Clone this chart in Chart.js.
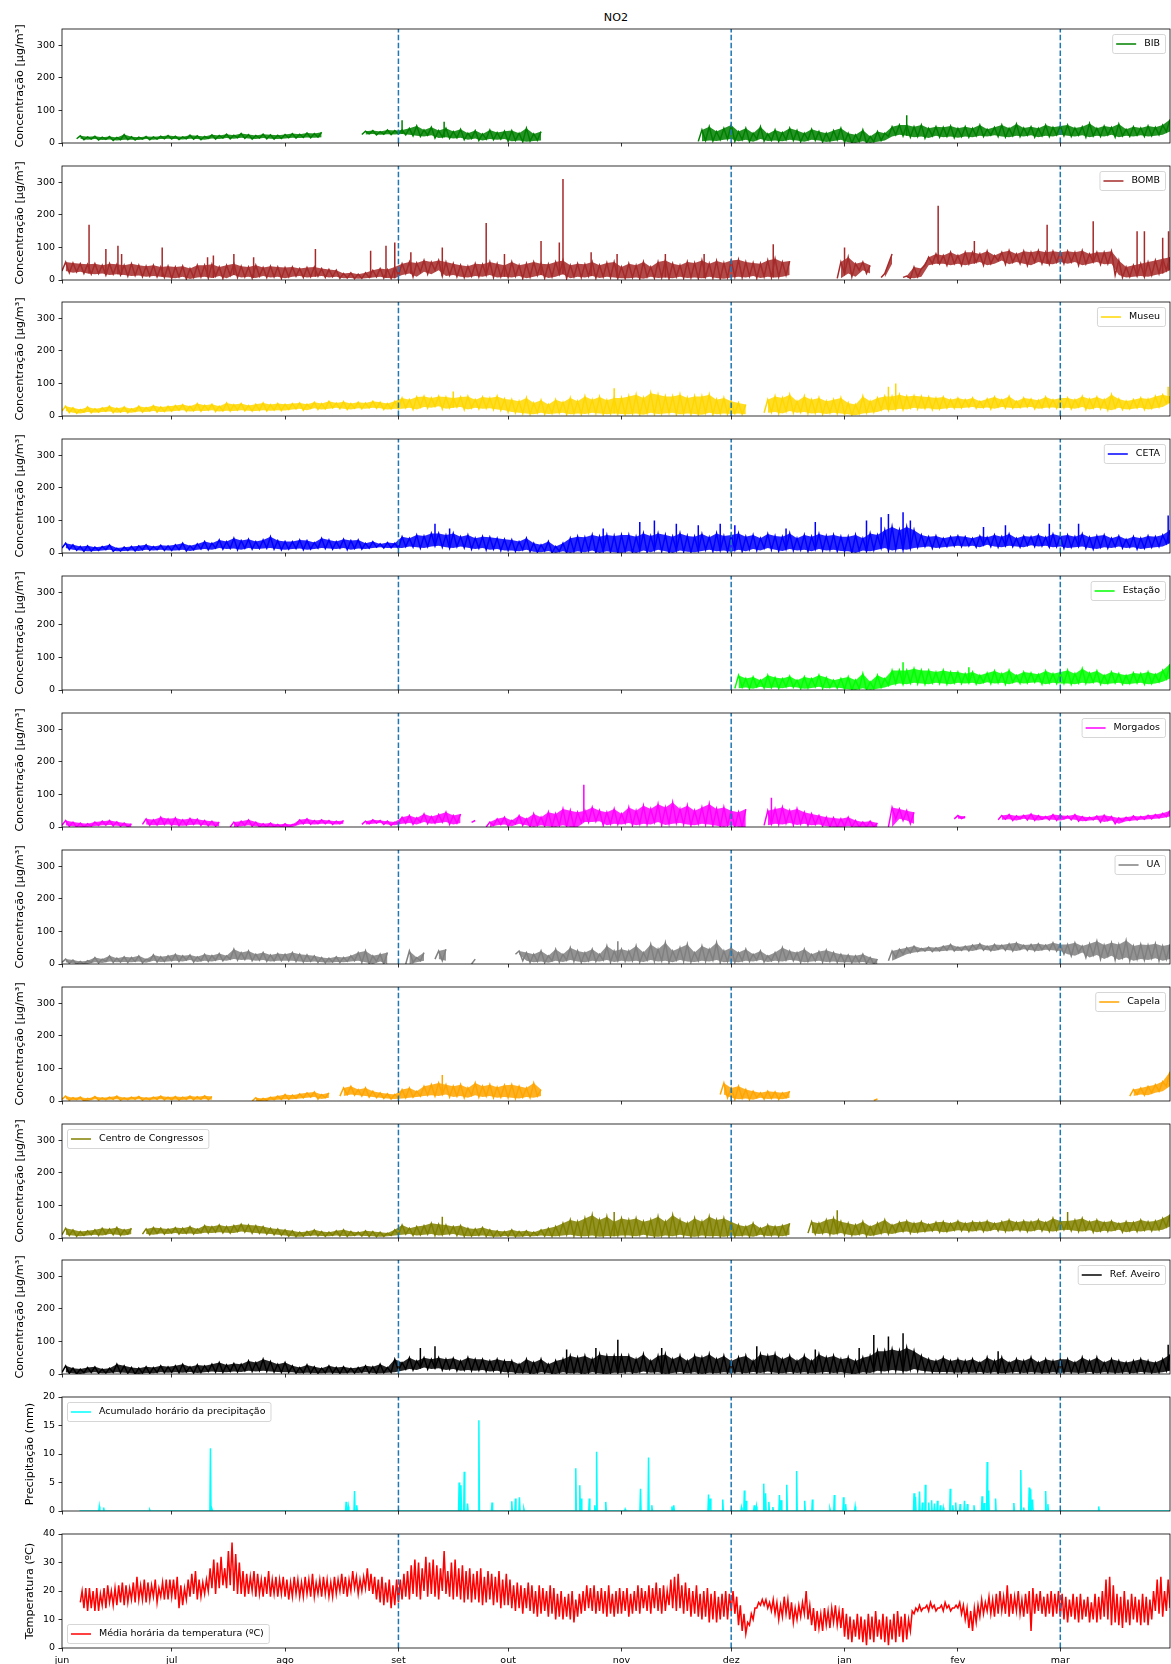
<!DOCTYPE html>
<html lang="pt">
<head>
<meta charset="utf-8">
<title>NO2</title>
<script src="https://cdn.jsdelivr.net/npm/chart.js@4.4.1/dist/chart.umd.min.js"></script>
<style>
  html, body { margin: 0; padding: 0; background: #fff; }
  #page { position: relative; width: 1171px; height: 1664px; overflow: hidden; font-family: 'DejaVu Sans', sans-serif; }
  #page canvas { position: absolute; left: 0; }
  #title { position: absolute; left: 62px; width: 1108px; top: 11px; text-align: center; font-size: 11.2px; line-height: 14px; color: #000; }
</style>
</head>
<body>
<div id="page">
  <div id="title">NO2</div>
</div>
<script>
const _ = null;

// x axis: days counted from 1 June, month starts as tick positions
const dayCount = 303;
const monthStarts = [0, 30, 61, 92, 122, 153, 183, 214, 245, 273];
const monthLabels = ['jun', 'jul', 'ago', 'set', 'out', 'nov', 'dez', 'jan', 'fev', 'mar'];
const markerDays = [92, 183, 273];

const concTicks = [0, 100, 200, 300];
const precipTicks = [0, 5, 10, 15, 20];
const tempTicks = [0, 10, 20, 30, 40];

// NO2: two-day windows (152 per series), upper and lower level of the band,
// plus isolated peaks (day, value) that stand above the band
// rows: jun(15) jul(16) ago(15) set(15) out(16) nov(15) dez(15) jan(16) fev(14) mar(15)
const bibHi = [
  _,_,22,19,21,18,20,17,26,19,18,20,19,21,23,
  21,19,24,22,20,25,23,27,24,29,26,23,27,25,24,26,
  29,27,31,29,33,_,_,_,_,_,36,38,35,40,38,
  40,45,52,40,48,38,45,35,42,30,38,28,40,32,36,
  38,30,45,28,35,_,_,_,_,_,_,_,_,_,_,_,
  _,_,_,_,_,_,_,_,_,_,40,50,35,45,55,
  35,45,30,50,28,40,32,45,38,30,42,35,30,38,45,
  30,25,40,20,35,30,50,55,55,50,55,45,50,48,52,45,
  50,45,55,42,48,55,45,58,46,50,45,55,48,52,
  55,46,50,60,45,52,48,58,42,50,46,52,48,55,72];
const bibLo = [
  _,_,13,10,12,9,11,8,10,10,9,12,10,12,13,
  12,11,13,12,10,14,12,15,13,16,14,12,15,13,12,14,
  16,15,17,16,18,_,_,_,_,_,26,28,25,27,26,
  28,25,22,20,24,15,18,14,16,10,14,8,12,10,12,
  5,8,4,6,8,_,_,_,_,_,_,_,_,_,_,_,
  _,_,_,_,_,_,_,_,_,_,5,8,6,10,12,
  5,10,4,12,6,8,5,10,8,4,10,8,3,6,10,
  2,0,5,0,4,8,20,25,22,18,20,15,22,18,20,16,
  20,18,22,20,24,20,18,22,20,24,18,22,20,25,
  22,20,24,18,22,20,25,18,22,20,24,20,22,25,35];
const bibPeakDay = [93, 104.5, 231];
const bibPeakVal = [70, 65, 85];

const bombHi = [
  55,52,50,48,50,45,50,48,45,50,45,42,45,40,42,
  40,42,35,45,45,48,40,45,50,42,40,45,38,42,40,38,
  40,35,38,40,35,32,30,20,22,18,22,30,35,32,40,
  50,55,52,60,55,60,55,50,45,42,50,48,55,50,45,
  55,45,50,55,50,48,55,60,45,50,48,55,45,52,55,40,
  50,45,55,40,55,60,50,45,55,52,60,50,58,52,60,
  62,55,52,50,60,65,55,58,_,_,_,_,_,_,55,
  70,50,55,45,_,20,80,_,12,40,35,70,80,75,85,75,
  85,85,80,88,75,85,90,80,88,85,90,85,88,85,
  88,85,90,80,85,85,88,60,40,45,50,55,60,65,70];
const bombLo = [
  28,22,25,20,18,20,15,18,15,12,14,10,12,10,8,
  5,10,3,8,10,6,12,5,15,8,10,6,12,8,10,5,
  10,12,8,10,12,8,10,5,6,4,5,8,10,6,5,
  15,20,10,25,18,30,12,15,10,8,12,10,15,8,10,
  8,12,5,10,15,6,10,18,5,10,8,12,6,10,8,5,
  5,8,4,10,6,8,5,10,6,8,5,10,6,4,8,
  10,8,12,6,10,8,10,15,_,_,_,_,_,_,5,
  20,10,30,20,_,8,50,_,8,5,10,45,50,50,45,50,
  45,50,55,45,50,60,48,55,50,45,55,50,48,55,
  50,55,45,50,55,48,50,15,8,10,12,10,15,20,30];
const bombPeakDay = [7.4, 12, 15.3, 16.3, 27.4, 39.8, 41.4, 47, 52.4, 69.3, 84.4, 88.6, 91, 95.4, 104,
  116, 121, 131, 136, 137, 144.7, 151.8, 165, 175.6, 194.5, 214, 239.6, 249.5, 269.4, 282, 294, 296, 301, 302.6];
const bombPeakVal = [170, 95, 105, 80, 100, 70, 75, 80, 70, 95, 90, 105, 115, 85, 100,
  175, 80, 120, 115, 310, 85, 80, 80, 80, 110, 100, 228, 120, 170, 180, 150, 150, 130, 150];

const museuHi = [
  30,25,20,28,22,25,30,24,28,22,30,26,32,28,30,
  32,35,30,38,33,36,30,40,35,38,32,36,40,35,38,36,
  38,40,36,42,38,45,40,44,38,42,40,45,42,38,45,
  55,50,58,60,55,60,58,55,58,60,50,58,55,60,52,
  50,45,55,40,48,35,50,42,55,45,60,50,58,48,55,55,
  60,65,55,70,65,60,60,65,55,60,60,65,50,55,45,
  40,35,_,_,50,60,55,65,45,60,50,55,45,50,55,
  40,35,60,45,55,60,60,65,60,62,60,58,55,58,50,55,
  50,55,45,52,58,50,60,45,55,52,48,58,50,55,
  55,50,60,52,58,50,65,52,46,50,55,52,60,65,60];
const museuLo = [
  15,10,8,12,10,12,14,10,12,10,14,12,15,12,14,
  15,18,14,16,15,18,14,16,15,18,16,15,18,16,18,17,
  20,22,18,24,20,22,25,22,20,24,22,25,24,20,22,
  22,25,20,28,25,30,22,25,28,20,25,22,24,20,18,
  12,10,8,5,10,6,8,10,5,8,6,10,8,5,8,6,
  5,8,4,10,6,8,10,5,8,6,4,10,5,8,6,
  8,5,_,_,10,12,8,15,10,12,8,10,6,10,8,
  5,2,8,10,12,20,18,22,20,25,22,24,20,22,25,24,
  25,28,24,26,22,28,25,24,26,28,22,25,26,24,
  25,22,28,20,25,22,18,25,20,22,25,20,24,28,40];
const museuPeakDay = [107, 151, 226, 228, 302.5];
const museuPeakVal = [75, 85, 90, 100, 90];

const cetaHi = [
  30,25,20,22,18,20,25,15,18,20,22,25,20,24,22,
  25,30,22,28,35,30,40,35,45,38,42,35,40,50,38,35,
  35,40,38,32,45,40,35,42,38,40,30,35,28,32,30,
  50,45,55,52,60,60,55,60,50,55,45,50,48,45,42,
  40,35,45,30,25,35,20,30,45,50,48,55,50,55,52,55,
  55,50,60,52,60,55,50,60,52,50,58,48,60,52,55,
  60,50,55,45,58,52,50,60,45,55,50,58,52,55,50,
  50,55,45,60,55,70,80,70,80,70,55,50,52,45,50,52,
  50,45,52,48,55,50,58,45,52,50,55,48,58,52,
  55,50,58,48,52,55,45,52,42,50,45,52,50,55,70];
const cetaLo = [
  15,10,8,5,6,8,10,5,6,8,6,10,8,10,8,
  8,10,6,10,12,10,15,12,14,10,15,12,14,15,12,10,
  12,14,10,12,15,14,12,15,10,14,12,15,18,15,16,
  15,20,18,15,20,22,18,15,20,16,12,15,10,12,8,
  8,5,10,4,2,6,0,5,0,5,2,8,0,5,2,0,
  5,0,8,2,10,5,0,8,4,2,6,10,5,8,4,
  10,5,12,8,15,10,6,12,8,10,5,12,8,10,6,
  5,0,8,5,10,15,8,12,10,15,18,20,15,18,20,22,
  20,22,18,25,20,18,22,20,18,24,20,22,18,20,
  15,18,20,15,12,18,15,20,15,18,12,15,18,20,30];
const cetaPeakDay = [102, 106, 148, 158, 162, 168, 174, 180, 184, 198, 206, 220, 224, 226, 230, 232, 252, 258, 270, 278, 302.5];
const cetaPeakVal = [90, 75, 75, 95, 100, 90, 85, 90, 85, 75, 95, 100, 110, 120, 125, 100, 80, 85, 90, 90, 115];

const estacaoHi = [
  _,_,_,_,_,_,_,_,_,_,_,_,_,_,_,
  _,_,_,_,_,_,_,_,_,_,_,_,_,_,_,_,
  _,_,_,_,_,_,_,_,_,_,_,_,_,_,_,
  _,_,_,_,_,_,_,_,_,_,_,_,_,_,_,
  _,_,_,_,_,_,_,_,_,_,_,_,_,_,_,_,
  _,_,_,_,_,_,_,_,_,_,_,_,_,_,_,
  45,35,40,30,45,38,35,42,30,40,35,45,38,30,35,
  40,30,50,25,45,35,60,60,60,65,60,60,55,60,55,55,
  50,55,45,52,58,50,60,45,55,52,48,58,50,55,
  60,50,65,52,58,45,55,50,45,52,50,55,48,60,80];
const estacaoLo = [
  _,_,_,_,_,_,_,_,_,_,_,_,_,_,_,
  _,_,_,_,_,_,_,_,_,_,_,_,_,_,_,_,
  _,_,_,_,_,_,_,_,_,_,_,_,_,_,_,
  _,_,_,_,_,_,_,_,_,_,_,_,_,_,_,
  _,_,_,_,_,_,_,_,_,_,_,_,_,_,_,_,
  _,_,_,_,_,_,_,_,_,_,_,_,_,_,_,
  5,8,4,10,6,8,5,10,8,4,6,10,5,8,6,
  2,0,5,0,4,8,15,20,18,22,20,18,22,20,18,22,
  20,22,18,24,20,22,18,24,20,22,24,18,22,20,
  20,18,22,20,24,18,20,22,18,20,22,18,20,25,35];
const estacaoPeakDay = [230, 248];
const estacaoPeakVal = [85, 70];

const morgadosHi = [
  20,15,12,10,15,18,20,16,12,10,_,25,22,30,25,
  28,22,26,24,20,18,15,_,15,18,22,15,10,12,8,10,
  8,22,25,20,22,20,18,20,_,_,18,22,20,18,15,
  30,35,28,40,32,38,45,35,40,_,20,_,15,25,30,
  20,35,25,40,30,45,40,55,50,45,50,60,50,45,55,40,
  60,50,65,55,70,60,75,55,65,50,60,70,55,60,50,
  45,55,_,_,50,55,60,50,55,45,40,35,30,28,25,
  30,20,15,18,12,_,60,55,50,45,_,_,_,_,_,35,
  32,_,_,_,_,35,38,34,36,40,35,32,38,36,
  34,38,32,30,34,36,32,28,30,34,32,36,38,42,50];
const morgadosLo = [
  5,2,0,0,3,5,6,4,2,0,_,8,5,6,8,
  5,4,6,8,5,4,2,_,0,2,5,2,0,0,0,0,
  0,8,10,8,10,10,8,10,_,_,8,10,12,8,5,
  10,12,8,15,10,12,15,8,12,_,14,_,0,5,8,
  2,10,5,0,5,2,0,5,0,0,15,15,18,5,10,8,
  12,5,10,8,15,6,10,12,8,5,10,8,4,0,5,
  0,0,_,_,5,10,8,12,6,10,5,8,2,0,0,
  2,0,0,0,0,_,0,25,20,10,_,_,_,_,_,25,
  26,_,_,_,_,22,24,20,25,22,20,24,22,20,
  25,22,18,20,22,15,20,10,18,20,22,24,25,28,32];
const morgadosPeakDay = [142.7, 194];
const morgadosPeakVal = [130, 90];

const uaHi = [
  15,12,8,10,20,15,25,18,22,20,25,15,28,22,25,
  30,25,28,22,30,26,32,25,45,35,40,30,35,28,32,30,
  35,30,28,25,20,18,22,20,25,35,40,25,30,35,_,
  _,40,20,35,_,40,45,_,_,_,15,_,_,_,_,
  _,40,35,30,40,25,45,30,50,40,35,45,30,55,40,45,
  40,55,35,60,45,65,40,50,60,35,55,45,65,40,50,
  35,45,30,40,25,35,50,40,35,45,30,38,42,35,30,
  28,25,30,20,15,_,40,45,50,55,48,52,50,55,60,52,
  55,58,62,55,60,58,62,65,58,60,62,58,65,60,
  60,65,55,62,70,58,65,60,72,55,60,58,62,55,60];
const uaLo = [
  5,2,0,0,5,3,8,5,6,5,8,4,10,6,8,
  10,8,12,6,10,8,12,10,15,12,14,10,12,8,10,10,
  10,8,6,8,5,4,6,5,8,10,5,0,8,0,_,
  _,0,5,10,_,15,10,_,_,_,0,_,_,_,_,
  _,30,10,5,8,4,10,6,12,8,5,10,8,12,6,10,
  8,10,6,12,8,10,5,12,8,6,10,8,12,5,8,
  5,10,8,12,6,10,8,12,10,5,8,10,6,8,5,
  5,4,6,2,0,_,10,20,30,35,38,40,38,40,42,40,
  42,40,45,42,40,45,42,40,45,42,40,44,42,40,
  30,25,35,20,28,15,25,12,20,10,15,12,18,10,15];
const uaPeakDay = [152];
const uaPeakVal = [70];

const capelaHi = [
  15,10,12,8,14,10,12,15,10,12,14,10,12,15,12,
  14,12,15,13,16,14,_,_,_,_,_,10,8,12,15,20,
  18,22,25,28,20,25,_,40,45,35,40,30,25,22,20,
  35,40,30,45,50,55,50,45,50,40,55,45,50,42,48,
  50,45,40,55,35,_,_,_,_,_,_,_,_,_,_,_,
  _,_,_,_,_,_,_,_,_,_,_,_,_,55,40,
  45,35,30,25,30,28,25,30,_,_,_,_,_,_,_,
  _,_,_,_,6,_,_,_,_,_,_,_,_,_,_,_,
  _,_,_,_,_,_,_,_,_,_,_,_,_,_,
  _,_,_,_,_,_,_,_,_,35,40,45,50,60,90];
const capelaLo = [
  5,2,4,0,5,3,4,5,3,4,5,3,4,5,4,
  4,3,5,4,5,4,_,_,_,_,_,0,0,2,4,5,
  5,8,10,12,6,10,_,15,20,18,15,12,10,8,6,
  8,10,12,15,18,15,20,12,15,10,18,12,15,10,12,
  10,8,12,10,15,_,_,_,_,_,_,_,_,_,_,_,
  _,_,_,_,_,_,_,_,_,_,_,_,_,20,10,
  5,8,4,10,6,8,5,10,_,_,_,_,_,_,_,
  _,_,_,_,2,_,_,_,_,_,_,_,_,_,_,_,
  _,_,_,_,_,_,_,_,_,_,_,_,_,_,
  _,_,_,_,_,_,_,_,_,15,20,18,25,30,45];
const capelaPeakDay = [104];
const capelaPeakVal = [80];

const congressosHi = [
  30,25,20,22,25,30,28,32,25,30,_,28,32,30,28,
  32,30,35,28,38,35,40,35,38,42,40,38,35,30,28,25,
  22,18,20,25,20,18,22,25,20,18,22,20,18,15,25,
  40,30,35,38,45,42,40,35,38,30,28,32,25,22,20,
  25,20,22,18,25,30,35,45,55,50,60,70,55,65,50,60,
  55,60,50,55,65,50,70,55,45,60,50,65,55,60,50,
  40,35,45,30,40,35,38,45,_,_,50,45,55,60,50,
  45,40,50,35,45,55,40,48,52,45,50,42,48,50,45,52,
  45,50,48,52,45,50,55,48,52,50,55,48,60,52,
  52,55,60,50,55,48,52,45,50,48,55,50,52,60,72];
const congressosLo = [
  10,8,5,8,10,8,12,10,8,12,_,12,10,14,12,
  15,12,14,12,16,15,18,16,15,20,18,15,14,12,10,8,
  5,4,6,8,6,5,8,6,5,8,6,5,4,5,8,
  10,12,8,10,12,8,10,12,8,5,6,8,5,4,6,
  5,4,6,5,8,6,5,8,10,6,5,8,4,6,5,8,
  8,5,10,6,4,8,5,10,6,4,8,5,6,4,8,
  5,8,4,10,6,8,5,10,_,_,15,12,15,10,15,
  10,8,12,6,10,15,12,18,20,15,18,20,22,18,20,24,
  22,20,24,20,25,22,20,24,22,20,25,22,20,24,
  25,22,20,24,18,22,20,25,18,22,20,24,22,25,35];
const congressosPeakDay = [104, 151, 212, 275];
const congressosPeakVal = [65, 80, 85, 80];

const aveiroHi = [
  25,18,15,20,22,15,18,30,25,20,18,22,20,25,22,
  25,30,22,28,25,30,35,28,32,30,40,35,45,38,30,35,
  25,20,28,22,18,25,20,22,18,20,25,22,30,20,45,
  35,50,40,50,45,50,45,48,40,50,45,45,40,45,40,
  40,30,45,35,45,30,40,45,55,50,55,45,60,55,55,55,
  55,45,60,40,55,60,45,55,40,55,50,60,45,55,40,
  50,55,40,60,55,60,45,55,40,55,40,60,50,55,45,
  50,40,50,55,70,70,75,70,80,70,55,45,40,50,40,45,
  40,45,35,50,40,50,35,45,40,50,35,45,40,45,
  45,35,50,40,50,35,45,40,35,40,45,40,35,45,60];
const aveiroLo = [
  5,2,0,4,5,2,3,5,4,2,0,3,2,5,4,
  5,4,6,3,5,8,6,5,8,6,10,8,10,8,6,5,
  5,2,4,3,2,4,3,2,4,3,5,3,2,4,5,
  10,15,12,20,15,18,12,15,10,12,10,12,8,10,5,
  5,2,4,0,5,3,0,5,2,4,0,5,2,0,4,3,
  5,2,8,4,5,0,3,6,2,5,0,4,2,5,3,
  5,2,6,3,8,4,2,6,3,5,2,4,6,3,5,
  2,0,5,3,10,8,12,10,8,15,10,8,5,6,5,4,
  5,4,6,3,5,2,4,6,3,5,4,2,5,3,
  5,4,3,6,2,5,4,3,5,2,6,4,3,5,10];
const aveiroPeakDay = [98, 102, 138, 146, 152, 164, 190, 206, 218, 222, 226, 230, 256, 302.5];
const aveiroPeakVal = [80, 85, 75, 80, 105, 80, 85, 75, 80, 120, 115, 125, 70, 90];

// temperature: daily maximum and minimum (304 days)
// rows: jun(30) jul(31) ago(31) set(30) out(31) nov(30) dez(31) jan(31) fev(28) mar(31)
const tempHi = [
  _,_,_,_,_,20,21,21,20,21,19,21,22,20,21,22,23,22,21,23,25,22,24,23,22,24,21,23,24,24,
  24,25,22,21,24,26,27,24,23,24,28,31,30,32,28,34,37,33,30,27,26,25,27,26,24,25,27,24,25,24,25,
  24,23,25,24,23,25,24,26,23,24,25,24,23,25,24,26,25,24,27,25,24,25,28,26,25,24,25,23,24,22,24,
  24,26,27,29,31,30,28,32,30,31,29,28,34,27,30,31,28,29,27,28,26,27,28,25,27,26,25,27,24,26,
  24,22,23,22,21,23,22,20,22,21,20,22,21,19,20,18,19,20,17,19,20,22,21,22,20,21,20,22,19,20,21,
  20,21,19,20,22,21,20,22,21,23,21,22,20,24,25,26,22,23,21,20,22,19,20,21,19,20,18,19,20,19,
  20,18,15,12,9,12,14,16,17,17,16,17,16,15,18,17,16,14,15,16,20,15,14,13,12,14,13,14,15,13,14,
  12,11,10,12,11,10,12,11,13,10,12,11,10,12,13,11,12,10,13,14,15,14,15,16,15,14,15,16,15,14,15,
  16,15,14,13,14,15,17,16,18,17,19,20,18,22,19,18,20,17,19,20,21,19,20,18,19,20,19,20,
  19,18,17,19,18,19,17,18,16,19,18,20,24,25,22,19,18,20,17,19,18,17,19,18,17,20,24,25,20,24,23];
const tempLo = [
  _,_,_,_,_,16,14,13,14,13,13,15,14,16,15,15,16,15,16,17,16,17,17,16,17,18,16,18,17,17,
  18,17,14,15,17,18,19,17,18,19,20,21,19,21,22,21,22,20,19,19,18,19,20,18,19,18,19,18,19,18,19,
  18,17,18,19,18,18,19,18,18,19,18,19,18,18,19,20,19,18,20,21,19,20,21,20,19,17,16,15,16,14,15,
  16,17,18,17,19,18,17,20,18,19,18,17,20,19,18,17,18,17,16,17,16,17,16,15,16,17,15,16,14,15,
  15,14,13,14,12,14,13,12,11,12,13,11,12,10,11,10,11,10,9,11,12,13,14,13,12,13,12,11,12,11,12,
  12,13,11,12,13,12,14,13,12,14,13,12,13,15,14,13,14,12,13,11,12,11,10,11,9,10,9,10,11,10,
  13,12,8,6,5,8,10,14,15,15,14,13,12,10,11,12,10,9,10,11,12,10,8,6,7,6,8,7,9,8,7,
  4,3,2,4,3,2,1,3,2,4,3,2,1,3,2,4,2,3,6,12,13,13,14,13,14,13,14,13,14,13,14,
  14,12,10,7,6,9,11,12,13,12,11,12,13,12,11,12,13,12,11,12,6,12,13,12,11,12,11,12,
  11,10,9,11,10,9,10,11,9,10,9,10,11,10,8,9,8,7,9,8,10,9,8,9,8,10,13,12,11,13,14];

// hourly rainfall: day of each shower and its peak in mm (zero otherwise)
const precipFrom = 4.8;
const precipDay = [
  10.2, 11.4, 24.0, 40.6, 41.0, 77.7, 78.3, 80.0, 80.6,
  108.6, 109.1, 110.0, 110.9, 114.0, 117.6, 123.0, 124.0, 125.1, 126.3,
  140.5, 141.6, 142.0, 144.2, 145.7, 146.2, 148.7, 154.0, 158.2, 160.4, 161.3,
  166.8, 167.3, 176.8, 177.3, 180.7, 185.8, 186.6, 187.1, 189.3, 189.9,
  191.9, 192.4, 193.3, 194.4, 196.2, 196.7, 198.2, 200.9, 203.1, 205.2,
  210.0, 211.2, 213.7, 214.3, 216.9, 233.0, 233.4, 234.5, 235.3, 236.1,
  237.0, 237.8, 238.6, 239.4, 240.2, 241.0, 242.9, 243.6, 244.4, 245.6,
  246.8, 247.6, 249.4, 251.6, 252.2, 253.0, 253.4, 255.3, 260.3, 262.2,
  263.0, 264.5, 264.9, 265.4, 269.0, 269.6, 283.5];
const precipMm = [
  0.8, 0.6, 0.2, 11.0, 0.5, 1.6, 0.8, 3.5, 1.0,
  5.0, 4.5, 6.9, 1.3, 15.9, 1.5, 1.7, 2.2, 2.4, 0.4,
  7.5, 4.5, 2.2, 2.2, 1.0, 10.4, 1.6, 0.3, 3.9, 9.4, 1.0,
  0.8, 1.0, 2.9, 2.2, 2.0, 0.6, 3.6, 1.8, 1.0, 0.8,
  4.8, 3.1, 1.6, 0.7, 2.8, 1.9, 4.6, 7.0, 1.8, 2.0,
  0.4, 2.8, 2.4, 1.2, 0.8, 3.1, 2.5, 3.4, 1.5, 4.6,
  1.5, 1.9, 1.3, 1.8, 1.0, 0.6, 3.9, 1.0, 1.5, 1.2,
  1.8, 1.2, 1.0, 2.6, 1.4, 8.6, 3.6, 2.2, 1.4, 7.2,
  0.6, 4.1, 3.8, 2.0, 3.5, 1.2, 0.8];

// alternate low and high values, one pair per window of `step` days
function zigzag(hi, lo, step) {
  const pts = [];
  hi.forEach((h, k) => {
    pts.push({ x: k * step, y: lo[k] });
    pts.push({ x: k * step + step / 2, y: h });
  });
  return pts;
}

function envelope(vals, step) {
  return vals.map((v, k) => ({ x: k * step + step / 2, y: v }));
}

// vertical strokes from the band floor up to each isolated peak
function peaks(days, vals, lo) {
  const pts = [];
  days.forEach((d, i) => {
    const base = lo[Math.min(lo.length - 1, Math.floor(d / 2))] ?? 0;
    pts.push({ x: d, y: base }, { x: d, y: vals[i] }, { x: d, y: null });
  });
  return pts;
}

function showers(days, mm) {
  const pts = [{ x: precipFrom, y: 0 }];
  days.forEach((d, i) => {
    pts.push({ x: d - 0.15, y: 0 }, { x: d, y: mm[i] }, { x: d + 0.15, y: 0 });
  });
  pts.push({ x: dayCount, y: 0 });
  return pts;
}

function withAlpha(hex, a) {
  const n = parseInt(hex.slice(1), 16);
  return `rgba(${n >> 16},${(n >> 8) & 255},${n & 255},${a})`;
}

const concTitle = 'Concentração [µg/m³]';
const panels = [
  { label: 'BIB', color: '#008000', hi: bibHi, lo: bibLo, pd: bibPeakDay, pv: bibPeakVal, corner: 'upper right' },
  { label: 'BOMB', color: '#a52a2a', hi: bombHi, lo: bombLo, pd: bombPeakDay, pv: bombPeakVal, corner: 'upper right' },
  { label: 'Museu', color: '#ffd700', hi: museuHi, lo: museuLo, pd: museuPeakDay, pv: museuPeakVal, corner: 'upper right' },
  { label: 'CETA', color: '#0000ff', hi: cetaHi, lo: cetaLo, pd: cetaPeakDay, pv: cetaPeakVal, corner: 'upper right' },
  { label: 'Estação', color: '#00ff00', hi: estacaoHi, lo: estacaoLo, pd: estacaoPeakDay, pv: estacaoPeakVal, corner: 'upper right' },
  { label: 'Morgados', color: '#ff00ff', hi: morgadosHi, lo: morgadosLo, pd: morgadosPeakDay, pv: morgadosPeakVal, corner: 'upper right' },
  { label: 'UA', color: '#808080', hi: uaHi, lo: uaLo, pd: uaPeakDay, pv: uaPeakVal, corner: 'upper right' },
  { label: 'Capela', color: '#ffa500', hi: capelaHi, lo: capelaLo, pd: capelaPeakDay, pv: capelaPeakVal, corner: 'upper right' },
  { label: 'Centro de Congressos', color: '#808000', hi: congressosHi, lo: congressosLo, pd: congressosPeakDay, pv: congressosPeakVal, corner: 'upper left' },
  { label: 'Ref. Aveiro', color: '#000000', hi: aveiroHi, lo: aveiroLo, pd: aveiroPeakDay, pv: aveiroPeakVal, corner: 'upper right' },
  { label: 'Acumulado horário da precipitação', color: '#00ffff', points: showers(precipDay, precipMm),
    corner: 'upper left', yMax: 20, yTicks: precipTicks, yTitle: 'Precipitação (mm)', titleX: 30 },
  { label: 'Média horária da temperatura (ºC)', color: '#ff0000', points: zigzag(tempHi, tempLo, 1),
    corner: 'lower left', yMax: 40, yTicks: tempTicks, yTitle: 'Temperatura (ºC)', titleX: 30 }
];

// dashed season markers, axes frame and a boxed legend inside the plot
const panelDecor = {
  id: 'panelDecor',
  afterDatasetsDraw(chart) {
    const { ctx, chartArea: a, scales: { x } } = chart;
    ctx.save();
    ctx.beginPath();
    ctx.rect(a.left, a.top, a.width, a.height);
    ctx.clip();
    ctx.strokeStyle = '#1f77b4';
    ctx.lineWidth = 1.5;
    ctx.setLineDash([5.5, 2.4]);
    markerDays.forEach(d => {
      const px = x.getPixelForValue(d);
      ctx.beginPath();
      ctx.moveTo(px, a.bottom);
      ctx.lineTo(px, a.top);
      ctx.stroke();
    });
    ctx.restore();
  },
  afterDraw(chart, args, opts) {
    const { ctx, chartArea: a } = chart;
    const ds = chart.data.datasets[0];
    ctx.save();
    ctx.strokeStyle = '#000';
    ctx.lineWidth = 0.8;
    ctx.strokeRect(a.left, a.top, a.width, a.height);

    ctx.font = '9.5px "DejaVu Sans"';
    const tw = ctx.measureText(ds.label).width;
    const w = 4 + 20 + 8 + tw + 5, h = 19;
    const bx = opts.corner.includes('left') ? a.left + 5 : a.right - 5 - w;
    const by = opts.corner.includes('upper') ? a.top + 5 : a.bottom - 5 - h;
    ctx.beginPath();
    ctx.roundRect(bx + 0.5, by + 0.5, w, h, 2);
    ctx.fillStyle = 'rgba(255,255,255,0.8)';
    ctx.fill();
    ctx.strokeStyle = 'rgba(204,204,204,0.8)';
    ctx.lineWidth = 1;
    ctx.stroke();
    const cy = by + h / 2 + 0.5;
    ctx.strokeStyle = ds.borderColor;
    ctx.lineWidth = 1.5;
    ctx.beginPath();
    ctx.moveTo(bx + 4, cy);
    ctx.lineTo(bx + 24, cy);
    ctx.stroke();
    ctx.fillStyle = '#000';
    ctx.textBaseline = 'middle';
    ctx.fillText(ds.label, bx + 32, cy);
    ctx.restore();
  }
};

Chart.defaults.font.family = "'DejaVu Sans', sans-serif";
Chart.defaults.font.size = 9.5;
Chart.defaults.color = '#000';

const page = document.getElementById('page');
const firstTop = 28.7, pitch = 136.85, areaH = 114, pad = 30;

panels.forEach((p, i) => {
  const isLast = i === panels.length - 1;
  const top = Math.round(firstTop + pitch * i);
  const cv = document.createElement('canvas');
  cv.width = 1171;
  cv.height = areaH + 2 * pad;
  cv.style.top = (top - pad) + 'px';
  page.appendChild(cv);

  const tickGrid = { drawOnChartArea: false, drawTicks: true, tickLength: 3.5, color: '#000', lineWidth: 0.8 };
  const yTicks = p.yTicks || concTicks;
  const trace = { borderColor: p.color, borderWidth: 1.5, pointRadius: 0, fill: false, tension: 0, spanGaps: false };

  const datasets = [{ ...trace, label: p.label, backgroundColor: p.color, data: p.points || zigzag(p.hi, p.lo, 2) }];
  if (p.hi) {
    datasets.push(
      { ...trace, data: peaks(p.pd, p.pv, p.lo) },
      // dense band between the window levels, under the trace
      { data: envelope(p.hi, 2), borderWidth: 0, pointRadius: 0, tension: 0, spanGaps: false,
        fill: '+1', backgroundColor: withAlpha(p.color, 0.85) },
      { data: envelope(p.lo, 2), borderWidth: 0, pointRadius: 0, tension: 0, spanGaps: false, fill: false }
    );
  }

  new Chart(cv, {
    type: 'line',
    data: { datasets },
    options: {
      responsive: false,
      animation: false,
      events: [],
      devicePixelRatio: 1,
      layout: { padding: { top: pad, right: 1, bottom: 0, left: 0 } },
      plugins: {
        legend: { display: false },
        tooltip: { enabled: false },
        panelDecor: { corner: p.corner }
      },
      scales: {
        x: {
          type: 'linear',
          min: 0,
          max: dayCount,
          afterBuildTicks: s => { s.ticks = monthStarts.map(v => ({ value: v })); },
          afterFit: s => { s.height = pad; },
          border: { display: false },
          grid: tickGrid,
          ticks: {
            autoSkip: false,
            maxRotation: 0,
            padding: 3,
            color: '#000',
            callback: (v, idx) => isLast ? monthLabels[idx] : ''
          }
        },
        y: {
          min: 0,
          max: p.yMax || 350,
          afterBuildTicks: s => { s.ticks = yTicks.map(v => ({ value: v })); },
          afterFit: s => { s.width = 62; },
          border: { display: false },
          grid: tickGrid,
          ticks: { padding: 3.5, color: '#000' },
          title: {
            display: true,
            text: p.yTitle || concTitle,
            color: '#000',
            font: { size: 11.2 },
            padding: { top: (p.titleX || 20) - 6.72, bottom: 0 }
          }
        }
      }
    },
    plugins: [panelDecor]
  });
});
</script>
</body>
</html>
